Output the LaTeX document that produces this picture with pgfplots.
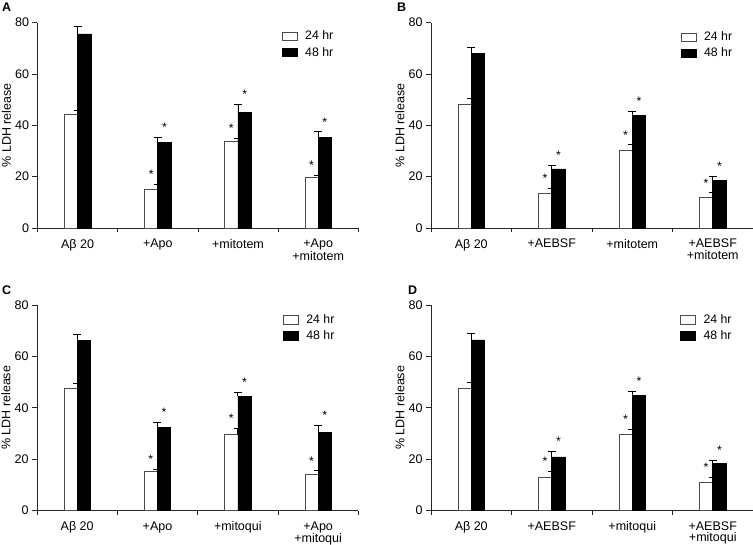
\documentclass[border=0pt]{standalone}
\usepackage{fontspec}
\setmainfont{Liberation Sans}
\usepackage{pgfplots}
\pgfplotsset{compat=1.18}
\pgfplotsset{
  panel/.style={
    scale only axis, height=205.3pt,
    xmin=-0.5, xmax=3.5, ymin=0, ymax=80,
    axis x line*=bottom, axis y line*=left,
    axis line style={line width=0.7pt, black!85},
    ytick={0,20,40,60,80},
    xtick={0,1,2,3},
    minor xtick={-0.5,0.5,1.5,2.5,3.5},
    tick align=outside,
    major tick length=5pt, minor tick length=4pt,
    major x tick style={draw=none},
    tick style={line width=0.7pt, black!85},
    /pgf/number format/assume math mode=true,
    tick label style={font=\fontsize{12.5}{11.5}\selectfont},
    xticklabel style={align=center, yshift=-2.5pt},
    ylabel={\% LDH release},
    ylabel style={at={(axis description cs:0,0.5)}, anchor=center, yshift=31pt, font=\fontsize{12.5}{14}\selectfont},
    legend style={draw=none, fill=none, anchor=north west, inner sep=0pt,
      row sep=4pt, column sep=7pt, font=\fontsize{12.3}{14}\selectfont, cells={anchor=west},
      nodes={inner sep=0.8pt}},
    legend cell align=left,
    clip=false,
  },
  legbox/.style={legend image code/.code={\draw[##1, line width=0.6pt] (0pt,-4.3pt) rectangle (15pt,4.3pt);}},
  b24/.style={ybar, bar width=13.3pt, bar shift=-6.65pt, fill=white, draw=black!70, line width=0.6pt, legbox,
    error bars/.cd, y dir=plus, y explicit, error bar style={line width=0.7pt, black}, error mark options={rotate=90, mark size=4pt, line width=0.7pt, black}},
  b48/.style={ybar, bar width=13.3pt, bar shift=6.65pt, fill=black, draw=black, line width=0.6pt, legbox,
    error bars/.cd, y dir=plus, y explicit, error bar style={line width=0.7pt, black}, error mark options={rotate=90, mark size=4pt, line width=0.7pt, black}},
  star/.style={forget plot, only marks, mark=*, mark size=0pt, mark options={draw=none, fill=none},
    nodes near coords={*}, nodes near coords style={anchor=south, inner sep=0pt, yshift=5.5pt, xshift=#1, font=\fontsize{12.3}{14}\selectfont}},
}
\begin{document}
\begin{tikzpicture}
\useasboundingbox (0pt,0pt) rectangle (753pt,545pt);
\node[anchor=north west, inner sep=0pt, font=\bfseries\fontsize{12.5}{14}\selectfont] at (2pt,542pt) {A};
\node[anchor=north west, inner sep=0pt, font=\bfseries\fontsize{12.5}{14}\selectfont] at (397pt,542pt) {B};
\node[anchor=north west, inner sep=0pt, font=\bfseries\fontsize{12.5}{14}\selectfont] at (2pt,259pt) {C};
\node[anchor=north west, inner sep=0pt, font=\bfseries\fontsize{12.5}{14}\selectfont] at (408pt,259pt) {D};

% Panel A
\begin{axis}[panel, width=320.8pt, at={(37.5pt,317pt)}, anchor=south west,
  xticklabels={Aβ 20,+Apo,+mitotem,+Apo\\+mitotem},
  legend style={at={(axis description cs:0.761,0.964)}}]
\addplot[b24] coordinates {(0,44.3) +- (0,1.6) (1,15.2) +- (0,1.7) (2,33.8) +- (0,1.1) (3,19.8) +- (0,0.8)};
\addplot[b48] coordinates {(0,75.6) +- (0,2.8) (1,33.3) +- (0,2.0) (2,45.1) +- (0,3.1) (3,35.4) +- (0,2.1)};
\legend{24 hr,48 hr}
\addplot[star=-6.65pt] coordinates {(1,16.9) (2,34.9) (3,20.6)};
\addplot[star=6.65pt] coordinates {(1,35.3) (2,48.2) (3,37.5)};
\end{axis}

% Panel B
\begin{axis}[panel, width=322pt, at={(431pt,317pt)}, anchor=south west,
  xticklabels={Aβ 20,+AEBSF,+mitotem,+AEBSF\\+mitotem},
  legend style={at={(axis description cs:0.775,0.96)}}]
\addplot[b24] coordinates {(0,48.2) +- (0,2.2) (1,13.6) +- (0,2.0) (2,30.3) +- (0,2.1) (3,12.1) +- (0,1.6)};
\addplot[b48] coordinates {(0,67.9) +- (0,2.4) (1,23.0) +- (0,1.4) (2,44.0) +- (0,1.5) (3,18.5) +- (0,1.5)};
\legend{24 hr,48 hr}
\addplot[star=-6.65pt] coordinates {(1,15.6) (2,32.4) (3,13.7)};
\addplot[star=6.65pt] coordinates {(1,24.4) (2,45.5) (3,20.0)};
\end{axis}

% Panel C
\begin{axis}[panel, width=321.3pt, at={(37pt,34.3pt)}, anchor=south west, height=205.7pt,
  xticklabels={Aβ 20,+Apo,+mitoqui,+Apo\\+mitoqui},
  legend style={at={(axis description cs:0.765,0.958)}}]
\addplot[b24] coordinates {(0,47.7) +- (0,1.9) (1,15.5) +- (0,0.6) (2,29.9) +- (0,2.0) (3,14.3) +- (0,1.2)};
\addplot[b48] coordinates {(0,66.1) +- (0,2.6) (1,32.5) +- (0,2.0) (2,44.5) +- (0,1.7) (3,30.4) +- (0,2.8)};
\legend{24 hr,48 hr}
\addplot[star=-6.65pt] coordinates {(1,16.1) (2,31.9) (3,15.5)};
\addplot[star=6.65pt] coordinates {(1,34.5) (2,46.2) (3,33.2)};
\end{axis}

% Panel D
\begin{axis}[panel, width=322pt, at={(431pt,34.3pt)}, anchor=south west, height=205.7pt,
  xticklabels={Aβ 20,+AEBSF,+mitoqui,+AEBSF\\+mitoqui},
  legend style={at={(axis description cs:0.773,0.958)}}]
\addplot[b24] coordinates {(0,47.7) +- (0,2.2) (1,13.0) +- (0,2.3) (2,29.9) +- (0,1.9) (3,11.2) +- (0,1.7)};
\addplot[b48] coordinates {(0,66.4) +- (0,2.4) (1,20.9) +- (0,2.3) (2,44.8) +- (0,1.5) (3,18.3) +- (0,1.2)};
\legend{24 hr,48 hr}
\addplot[star=-6.65pt] coordinates {(1,15.3) (2,31.8) (3,12.9)};
\addplot[star=6.65pt] coordinates {(1,23.2) (2,46.3) (3,19.5)};
\end{axis}
\end{tikzpicture}
\end{document}
